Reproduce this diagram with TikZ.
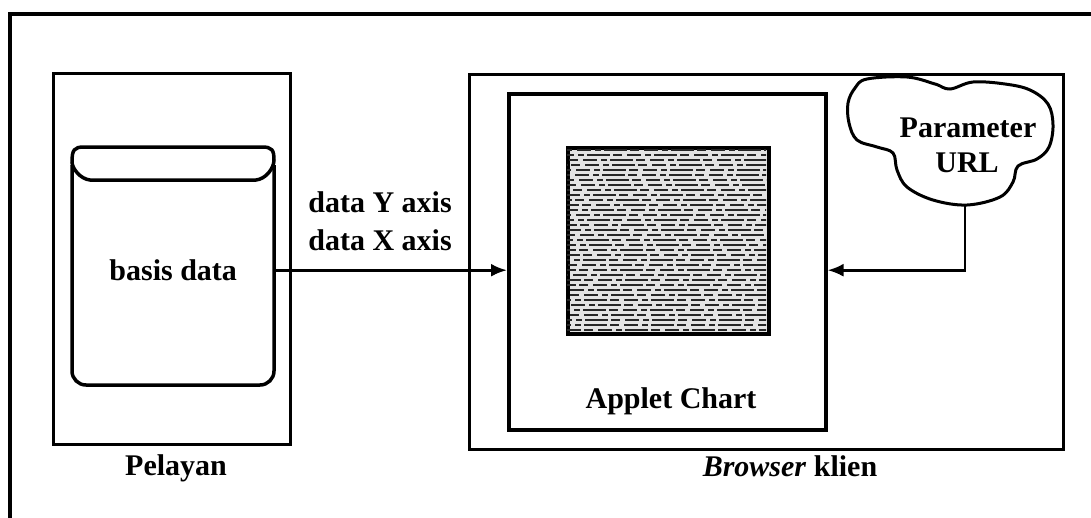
\documentclass[tikz,border=0pt]{standalone}
\usepackage{fontspec}
\setmainfont{Liberation Serif}
\usetikzlibrary{arrows.meta}
\begin{document}
\begin{tikzpicture}[x=1pt,y=-1pt,
  box/.style={draw, line width=3pt, inner sep=0pt},
  lbl/.style={font=\fontsize{30}{35}\selectfont\bfseries, inner sep=0pt},
  conn/.style={line width=2.8pt, -{Latex[length=16pt,width=13pt]}},
  dbline/.style={line width=3.5pt},
]
\useasboundingbox (0,0) rectangle (1091,517);
\clip (0,0) rectangle (1091,517);
\fill[white] (0,0) rectangle (1091,517);
% outer frame
\draw[line width=3.5pt] (10,540) -- (10,14) -- (1110,14);

% server
\node[box, anchor=north west, minimum width=237pt, minimum height=371pt] (pelayan) at (52,72) {};
\node[lbl, anchor=base] (pelayanlbl) at (176,475) {Pelayan};

% database
\draw[dbline, rounded corners=14pt] (72,165) -- (72,385) -- (274,385) -- (274,165);
\draw[dbline] (72,162) .. controls (72,150) and (74,147) .. (84,147) -- (262,147)
  .. controls (272,147) and (274,150) .. (274,160)
  .. controls (274,168) and (266,179) .. (256,180) -- (90,180)
  .. controls (80,179) and (72,168) .. (72,162) -- cycle;
\node[lbl, anchor=north west, minimum width=202pt, minimum height=230pt] (db) at (72,155) {basis data};

% browser
\node[box, anchor=north west, minimum width=594pt, minimum height=375pt] (browser) at (468,73) {};
\node[lbl, anchor=base] (browserlbl) at (790,476) {\textit{Browser} klien};

% applet
\node[box, line width=3.5pt, anchor=north west, minimum width=317pt, minimum height=336pt] (applet) at (507,92) {};
\node[lbl, anchor=base] (appletlbl) at (671,408) {Applet Chart};

% chart
\node[draw, line width=3.5pt, anchor=north west, minimum width=201pt, minimum height=186pt, fill=gray!22, inner sep=0pt] (chart) at (566,146) {};
\pgfmathsetseed{7}
\begin{scope}
\clip (567,147) rectangle (766,331);
\foreach \yy in {150,155,...,330}{
  \pgfmathsetmacro\ph{random(0,45)}
  \draw[line width=1.4pt, black!85, dash pattern=on 23pt off 3pt on 9pt off 5pt on 14pt off 4pt on 6pt off 3pt, dash phase=\ph pt] (560,\yy) -- (770,\yy);
}
\end{scope}

% cloud
\draw[line width=3pt] plot[smooth cycle, tension=0.6] coordinates {
 (855,88) (867,79) (907,77) (935,84) (950,89) (973,82) (1005,84) (1030,90)
 (1048,104) (1053,125) (1049,147) (1037,159) (1018,166) (1013,182) (1000,197)
 (967,205) (933,200) (907,187) (897,170) (893,153) (877,147) (857,140)
 (849,123) (848,103)};
\node[lbl, anchor=base] (urlA) at (968,137) {Parameter};
\node[lbl, anchor=base] (urlB) at (967,172) {URL};
\coordinate (cb) at (965,205);

% connectors
\draw[conn] (db.east) -- (db.east -| applet.west);
\node[lbl, anchor=base] (ylbl) at (380,212) {data Y axis};
\node[lbl, anchor=base] (xlbl) at (380,250) {data X axis};
\draw[conn] (cb) |- (applet.east |- db.east);
\end{tikzpicture}
\end{document}
